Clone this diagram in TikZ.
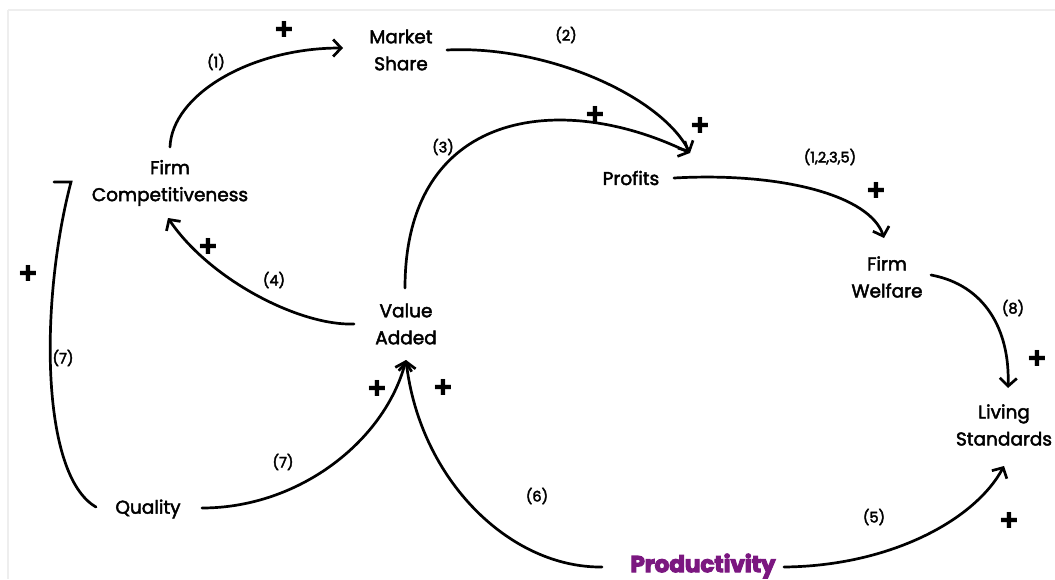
\documentclass[tikz,border=0pt]{standalone}
\usepackage{fontspec}
\setmainfont{Poppins}
\newfontfamily\symfont{DejaVu Sans}
\usetikzlibrary{arrows.meta}
\definecolor{prodpurple}{HTML}{7B1780}
\definecolor{framegray}{HTML}{EEEEEE}
\newcommand{\heavytext}[2]{\special{pdf:literal direct 2 Tr #1 w}#2\special{pdf:literal direct 0 Tr}}
\begin{document}
\begin{tikzpicture}[x=1pt,y=-1pt,
  var/.style={align=center, font=\fontsize{18.5}{27}\selectfont, inner sep=2pt},
  conn/.style={line width=2.7pt, line cap=round, -{Straight Barb[length=8pt,width=17pt]}},
  plainconn/.style={line width=2.7pt, line cap=round},
  lbl/.style={font=\fontsize{14.5}{16}\selectfont, inner sep=1pt},
  plus/.style={font=\symfont\fontsize{22}{22}\selectfont, inner sep=0pt}
]
\useasboundingbox (0,0) rectangle (1055,579);
\draw[framegray, line width=1.5pt] (8,10) -- (1055,10);
\draw[framegray, line width=1.5pt] (8,10) -- (8,579);

% variables
\node[var] (ms) at (401,50) {\heavytext{0.45}{Market}\\\heavytext{0.45}{Share}};
\node[var] (fc) at (170,183) {\heavytext{0.45}{Firm}\\\heavytext{0.45}{Competitiveness}};
\node[var] (pr) at (631,178) {\heavytext{0.45}{Profits}};
\node[var] (fw) at (887,277) {\heavytext{0.45}{Firm}\\\heavytext{0.45}{Welfare}};
\node[var] (va) at (406,324) {\heavytext{0.45}{Value}\\\heavytext{0.45}{Added}};
\node[var] (ls) at (1004,425) {\heavytext{0.45}{Living}\\\heavytext{0.45}{Standards}};
\node[var] (q) at (148,509) {\heavytext{0.45}{Quality}};
\node[var, font=\fontsize{23}{26}\selectfont\bfseries, text=prodpurple] (p) at (703,566) {\heavytext{1.1}{Productivity}};

% connectors
\draw[conn] ([shift={(0,-36)}]fc.center) .. controls (172,95) and (250,48) .. ([shift={(-58,-2)}]ms.center);
\draw[conn] ([shift={(46,0)}]ms.center) .. controls (545,45) and (660,95) .. ([shift={(59,-25)}]pr.center);
\draw[conn] ([shift={(-1,-36)}]va.center) .. controls (405,110) and (560,90) .. ([shift={(59,-25)}]pr.center);
\draw[conn] ([shift={(-52,0)}]va.center) .. controls (300,326) and (210,280) .. ([shift={(-2,35)}]fc.center);
\draw[conn] ([shift={(43,0)}]pr.center) .. controls (780,172) and (870,195) .. ([shift={(-3,-39)}]fw.center);
\draw[conn] ([shift={(44,-2)}]fw.center) .. controls (985,285) and (1010,330) .. ([shift={(4,-37)}]ls.center);
\draw[conn] ([shift={(54,-1)}]q.center) .. controls (300,508) and (385,440) .. ([shift={(0,36)}]va.center);
\draw[conn] ([shift={(-101,1)}]p.center) .. controls (510,568) and (420,480) .. ([shift={(0,36)}]va.center);
\draw[conn] ([shift={(81,1)}]p.center) .. controls (890,566) and (975,520) .. ([shift={(0,41)}]ls.center);
\draw[plainconn] ([shift={(-52,-2)}]q.center) .. controls (40,475) and (40,300) .. ([shift={(-99,-1)}]fc.center) -- ++(-17,0);

% link labels
\node[lbl] (l1) at (216,62) {\heavytext{0.4}{(1)}};
\node[lbl] (l2) at (566,35) {\heavytext{0.4}{(2)}};
\node[lbl] (l3) at (443,147) {\heavytext{0.4}{(3)}};
\node[lbl] (l4) at (274,280) {\heavytext{0.4}{(4)}};
\node[lbl] (l1235) at (830,157) {\heavytext{0.4}{(1,2,3,5)}};
\node[lbl] (l8) at (1013,308) {\heavytext{0.4}{(8)}};
\node[lbl] (l7a) at (63,358) {\heavytext{0.4}{(7)}};
\node[lbl] (l7b) at (283,462) {\heavytext{0.4}{(7)}};
\node[lbl] (l6) at (537,496) {\heavytext{0.4}{(6)}};
\node[lbl] (l5) at (874,517) {\heavytext{0.4}{(5)}};

% polarity signs
\node[plus] (s1) at (284,29) {✚};
\node[plus] (s2) at (700,125) {✚};
\node[plus] (s3) at (595,114) {✚};
\node[plus] (s4) at (208,246) {✚};
\node[plus] (s5) at (876,190) {✚};
\node[plus] (s6) at (1037,358) {✚};
\node[plus] (s7) at (377,388) {✚};
\node[plus] (s8) at (443,387) {✚};
\node[plus] (s9) at (1009,520) {✚};
\node[plus] (s10) at (28,273) {✚};
\end{tikzpicture}
\end{document}
